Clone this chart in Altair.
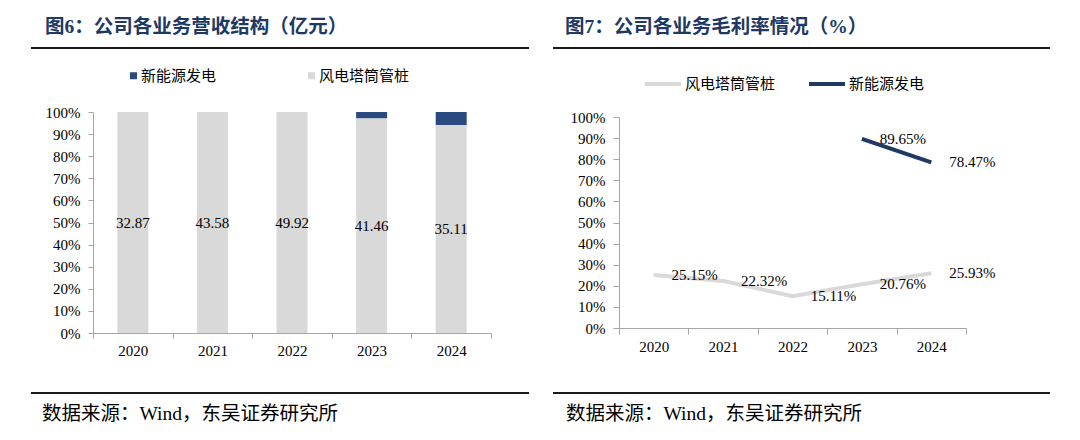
import altair as alt
import pandas as pd

# ---------------- data ----------------
years = ["2020", "2021", "2022", "2023", "2024"]
tower_rev = [32.87, 43.58, 49.92, 41.46, 35.11]      # 风电塔筒管桩 营收（亿元）
ne_rev = [0.0, 0.0, 0.0, 1.2, 2.2]                    # 新能源发电 营收（亿元，估计）
tower_margin = [25.15, 22.32, 15.11, 20.76, 25.93]    # 风电塔筒管桩 毛利率 %
ne_years = ["2023", "2024"]
ne_margin = [89.65, 78.47]                            # 新能源发电 毛利率 %
S_TOWER = "风电塔筒管桩"
S_NE = "新能源发电"
title_left = "图6：公司各业务营收结构（亿元）"
title_right = "图7：公司各业务毛利率情况（%）"
source_text = "数据来源：Wind，东吴证券研究所"
pct_ticks = [0, 0.1, 0.2, 0.3, 0.4, 0.5, 0.6, 0.7, 0.8, 0.9, 1.0]
pct_ticks_r = [0, 10, 20, 30, 40, 50, 60, 70, 80, 90, 100]

# ---------------- styles ----------------
GREY = "#d9d9d9"
NAVY_BAR = "#2a4a7f"
NAVY_LINE = "#1f3864"
TITLE_C = "#203864"
AXIS_C = "#a6a6a6"
SERIF = "'Liberation Serif', 'Noto Sans CJK SC'"
CJK = "'Liberation Serif', 'Noto Sans CJK SC'"

rev_rows = []
for y, t, n in zip(years, tower_rev, ne_rev):
    rev_rows.append({"年份": y, "业务": S_TOWER, "营收": t, "序": 0})
    rev_rows.append({"年份": y, "业务": S_NE, "营收": n, "序": 1})
rev_df = pd.DataFrame(rev_rows)

lab_df = pd.DataFrame({
    "年份": years,
    "标签": [f"{v:.2f}" for v in tower_rev],
    "位置": [t / (t + n) / 2 for t, n in zip(tower_rev, ne_rev)],
})

mar_df = pd.DataFrame(
    [{"年份": y, "业务2": S_TOWER, "毛利率": v, "标签": f"{v:.2f}%"} for y, v in zip(years, tower_margin)]
    + [{"年份": y, "业务2": S_NE, "毛利率": v, "标签": f"{v:.2f}%"} for y, v in zip(ne_years, ne_margin)]
)


def decorations(title, tx, rx1, rx2, sx):
    t = alt.Chart(pd.DataFrame({"t": [title]})).mark_text(
        align="left", baseline="middle", fontSize=19.5, fontWeight="bold",
        color=TITLE_C, font=CJK
    ).encode(x=alt.value(tx), y=alt.value(-85), text="t:N")
    r1 = alt.Chart(pd.DataFrame({"a": [0]})).mark_rule(color="#1a1a1a", strokeWidth=2).encode(
        x=alt.value(rx1), x2=alt.value(rx2), y=alt.value(-64))
    r2 = alt.Chart(pd.DataFrame({"a": [0]})).mark_rule(color="#1a1a1a", strokeWidth=2).encode(
        x=alt.value(rx1), x2=alt.value(rx2), y=alt.value(281))
    s = alt.Chart(pd.DataFrame({"t": [source_text]})).mark_text(
        align="left", baseline="middle", fontSize=19.5, color="#000000", font=CJK
    ).encode(x=alt.value(sx), y=alt.value(302), text="t:N")
    return [t, r1, r2, s]


# ---------------- left: stacked 100% bars ----------------
W1, H1 = 398, 221
x_axis_l = alt.Axis(title=None, labelAngle=0, tickBand="extent", tickSize=5,
                    labelPadding=5, domainColor=AXIS_C, tickColor=AXIS_C,
                    labelFont=SERIF, labelFontSize=15, labelColor="#000000")
x_scale_l = alt.Scale(paddingInner=0, paddingOuter=0)
y_axis_l = alt.Axis(title=None, format=".0%", values=pct_ticks, grid=False, tickSize=5,
                    labelPadding=8, labelOverlap=False, domainColor=AXIS_C,
                    tickColor=AXIS_C, labelFont=SERIF, labelFontSize=15,
                    labelColor="#000000")
y_scale_l = alt.Scale(domain=[0, 1])

bars = alt.Chart(rev_df).mark_bar(size=31).encode(
    x=alt.X("年份:N", sort=years, scale=x_scale_l, axis=x_axis_l),
    y=alt.Y("营收:Q", stack="normalize", scale=y_scale_l, axis=y_axis_l),
    color=alt.Color("业务:N", scale=alt.Scale(domain=[S_NE, S_TOWER], range=[NAVY_BAR, GREY]),
                    legend=alt.Legend(title=None, orient="none", direction="horizontal",
                                      legendX=33, legendY=-44, symbolType="square", symbolSize=49,
                                      symbolStrokeWidth=0, labelFont=CJK, labelFontSize=15,
                                      labelColor="#000000", labelOffset=0, columnPadding=87,
                                      padding=0)),
    order=alt.Order("序:Q"),
)
bar_labels = alt.Chart(lab_df).mark_text(font=SERIF, fontSize=15, color="#000000").encode(
    x=alt.X("年份:N", sort=years, scale=x_scale_l, axis=x_axis_l),
    y=alt.Y("位置:Q", scale=y_scale_l, axis=y_axis_l),
    text="标签:N",
)
left = alt.layer(bars, bar_labels, *decorations(title_left, -48, -62, 436, -51)).properties(
    width=W1, height=H1)

# ---------------- right: margin lines ----------------
W2, H2 = 347, 216
x_axis_r = alt.Axis(title=None, labelAngle=0, tickBand="extent", tickSize=6,
                    labelPadding=5, domainColor=AXIS_C, tickColor=AXIS_C,
                    labelFont=SERIF, labelFontSize=15, labelColor="#000000")
x_scale_r = alt.Scale(type="band", paddingInner=0, paddingOuter=0)
y_axis_r = alt.Axis(title=None, values=pct_ticks_r, labelExpr="datum.value + '%'",
                    grid=False, tickSize=6, labelPadding=8, labelOverlap=False,
                    domainColor=AXIS_C, tickColor=AXIS_C, labelFont=SERIF,
                    labelFontSize=15, labelColor="#000000")
y_scale_r = alt.Scale(domain=[0, 100], range=[216, 5])

lines = alt.Chart(mar_df).mark_line(strokeWidth=4).encode(
    x=alt.X("年份:N", sort=years, bandPosition=0.5, scale=x_scale_r, axis=x_axis_r),
    y=alt.Y("毛利率:Q", scale=y_scale_r, axis=y_axis_r),
    color=alt.Color("业务2:N", scale=alt.Scale(domain=[S_TOWER, S_NE], range=[GREY, NAVY_LINE]),
                    legend=alt.Legend(title=None, orient="none", direction="horizontal",
                                      legendX=24, legendY=-48, symbolType="stroke",
                                      symbolSize=1296, symbolStrokeWidth=4, labelFont=CJK,
                                      labelFontSize=15, labelColor="#000000", labelOffset=2,
                                      columnPadding=25, padding=0)),
    detail="业务2:N",
)
line_labels = alt.Chart(mar_df).mark_text(font=SERIF, fontSize=15, color="#000000", dx=41,
                                          align="center", baseline="middle").encode(
    x=alt.X("年份:N", sort=years, bandPosition=0.5, scale=x_scale_r, axis=x_axis_r),
    y=alt.Y("毛利率:Q", scale=y_scale_r, axis=y_axis_r),
    text="标签:N",
)
right = alt.layer(lines, line_labels, *decorations(title_right, -54, -66, 431, -53)).properties(
    width=W2, height=H2)

chart = alt.hconcat(left, right, spacing=128, bounds="flush").resolve_scale(
    color="independent", x="independent", y="independent"
).resolve_legend(color="independent").properties(
    padding={"left": 21, "top": 8, "right": 5, "bottom": 5},
    background="#ffffff",
).configure_view(stroke="transparent")

chart.save("out.html", embed_options={"renderer": "svg", "actions": False})
